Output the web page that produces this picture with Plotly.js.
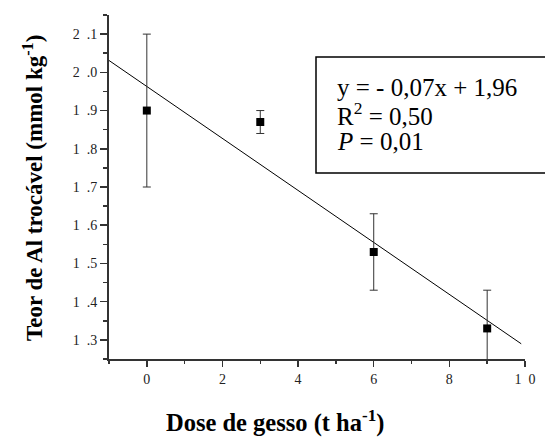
<!DOCTYPE html>
<html>
<head>
<meta charset="utf-8">
<script src="https://cdn.plot.ly/plotly-3.0.1.min.js"></script>
<style>
  html, body { margin: 0; padding: 0; background: #fff; }
  #chart { width: 545px; height: 441px; }
</style>
</head>
<body>
<div id="chart"></div>
<script>
// Gypsum dose (t/ha) vs exchangeable Al (mmol/kg), means with error bars
const dose = [0, 3, 6, 9];
const alMean = [1.90, 1.87, 1.53, 1.33];
const alErr = [0.20, 0.03, 0.10, 0.10];

// Fitted regression line
const fitSlope = -0.068;
const fitIntercept = 1.963;
const fitX = [-1, 9.9];
const fitY = fitX.map(x => fitSlope * x + fitIntercept);

// Axis ticks (digits spaced apart with an en space)
const SP = '\u2002';
const xTickVals = [0, 2, 4, 6, 8, 10];
const xTickText = ['0', '2', '4', '6', '8', '1' + SP + '0'];
const yTickVals = [1.3, 1.4, 1.5, 1.6, 1.7, 1.8, 1.9, 2.0, 2.1];
const yTickText = ['1' + SP + '.3', '1' + SP + '.4', '1' + SP + '.5', '1' + SP + '.6', '1' + SP + '.7',
                   '1' + SP + '.8', '1' + SP + '.9', '2' + SP + '.0', '2' + SP + '.1'];

// Equation box text
const statLines = ['y = - 0,07x + 1,96', 'R<sup>2</sup> = 0,50', '<i>P</i> = 0,01'];

const serif = 'Liberation Serif, Times New Roman, serif';

const traces = [
  {
    x: fitX, y: fitY, mode: 'lines', type: 'scatter',
    line: { color: '#000', width: 1 }, hoverinfo: 'skip', cliponaxis: false
  },
  {
    x: dose, y: alMean, mode: 'markers', type: 'scatter',
    marker: { symbol: 'square', size: 8, color: '#000' },
    error_y: { type: 'data', array: alErr, visible: true, color: '#333', thickness: 1, width: 4 },
    cliponaxis: false
  }
];

const statY = [0.788, 0.712, 0.631];
const annotations = statLines.map((t, i) => ({
  text: t, xref: 'paper', yref: 'paper', x: 0.544, y: statY[i],
  xanchor: 'left', yanchor: 'middle', showarrow: false,
  font: { family: serif, size: 25, color: '#000' }
}));
annotations.push({
  text: '<b>Dose de gesso (t ha<sup>-1</sup>)</b>', xref: 'paper', yref: 'paper',
  x: 0.399, y: -0.234, xanchor: 'center', yanchor: 'bottom', showarrow: false,
  font: { family: serif, size: 24.5, color: '#000' }
});
annotations.push({
  text: '<b>Teor de Al trocável (mmol kg<sup>-1</sup>)</b>', xref: 'paper', yref: 'paper',
  x: -0.183, y: 0.497, xanchor: 'center', yanchor: 'middle', textangle: -90, showarrow: false,
  font: { family: serif, size: 23, color: '#000' }
});

const layout = {
  width: 545, height: 441,
  margin: { l: 109, r: 20, t: 15, b: 82 },
  paper_bgcolor: '#fff', plot_bgcolor: '#fff',
  showlegend: false,
  font: { family: serif, size: 13, color: '#222' },
  xaxis: {
    range: [-1, 10], showgrid: false, zeroline: false,
    showline: true, linecolor: '#333', linewidth: 2,
    ticks: 'outside', ticklen: 6, tickwidth: 1.5, tickcolor: '#333',
    tickvals: xTickVals, ticktext: xTickText,
    minor: { ticks: 'outside', ticklen: 3, tickwidth: 1.5, tickcolor: '#333', tickvals: [-1, 1, 3, 5, 7, 9] },
    tickfont: { family: serif, size: 14, color: '#222' }
  },
  yaxis: {
    range: [1.25, 2.15], showgrid: false, zeroline: false,
    showline: true, linecolor: '#333', linewidth: 2,
    ticks: 'outside', ticklen: 7, tickwidth: 1.5, tickcolor: '#333',
    tickvals: yTickVals, ticktext: yTickText,
    minor: { ticks: 'outside', ticklen: 4, tickwidth: 1.5, tickcolor: '#333', tickvals: [1.25, 1.35, 1.45, 1.55, 1.65, 1.75, 1.85, 1.95, 2.05, 2.15] },
    tickfont: { family: serif, size: 14, color: '#222' }
  },
  shapes: [{
    type: 'rect', xref: 'paper', yref: 'paper',
    x0: 0.4976, x1: 1.2, y0: 0.541, y1: 0.878,
    line: { color: '#000', width: 1.5 }, fillcolor: 'rgba(0,0,0,0)'
  }],
  annotations: annotations
};

Plotly.newPlot('chart', traces, layout, { displayModeBar: false, staticPlot: true });
</script>
</body>
</html>
